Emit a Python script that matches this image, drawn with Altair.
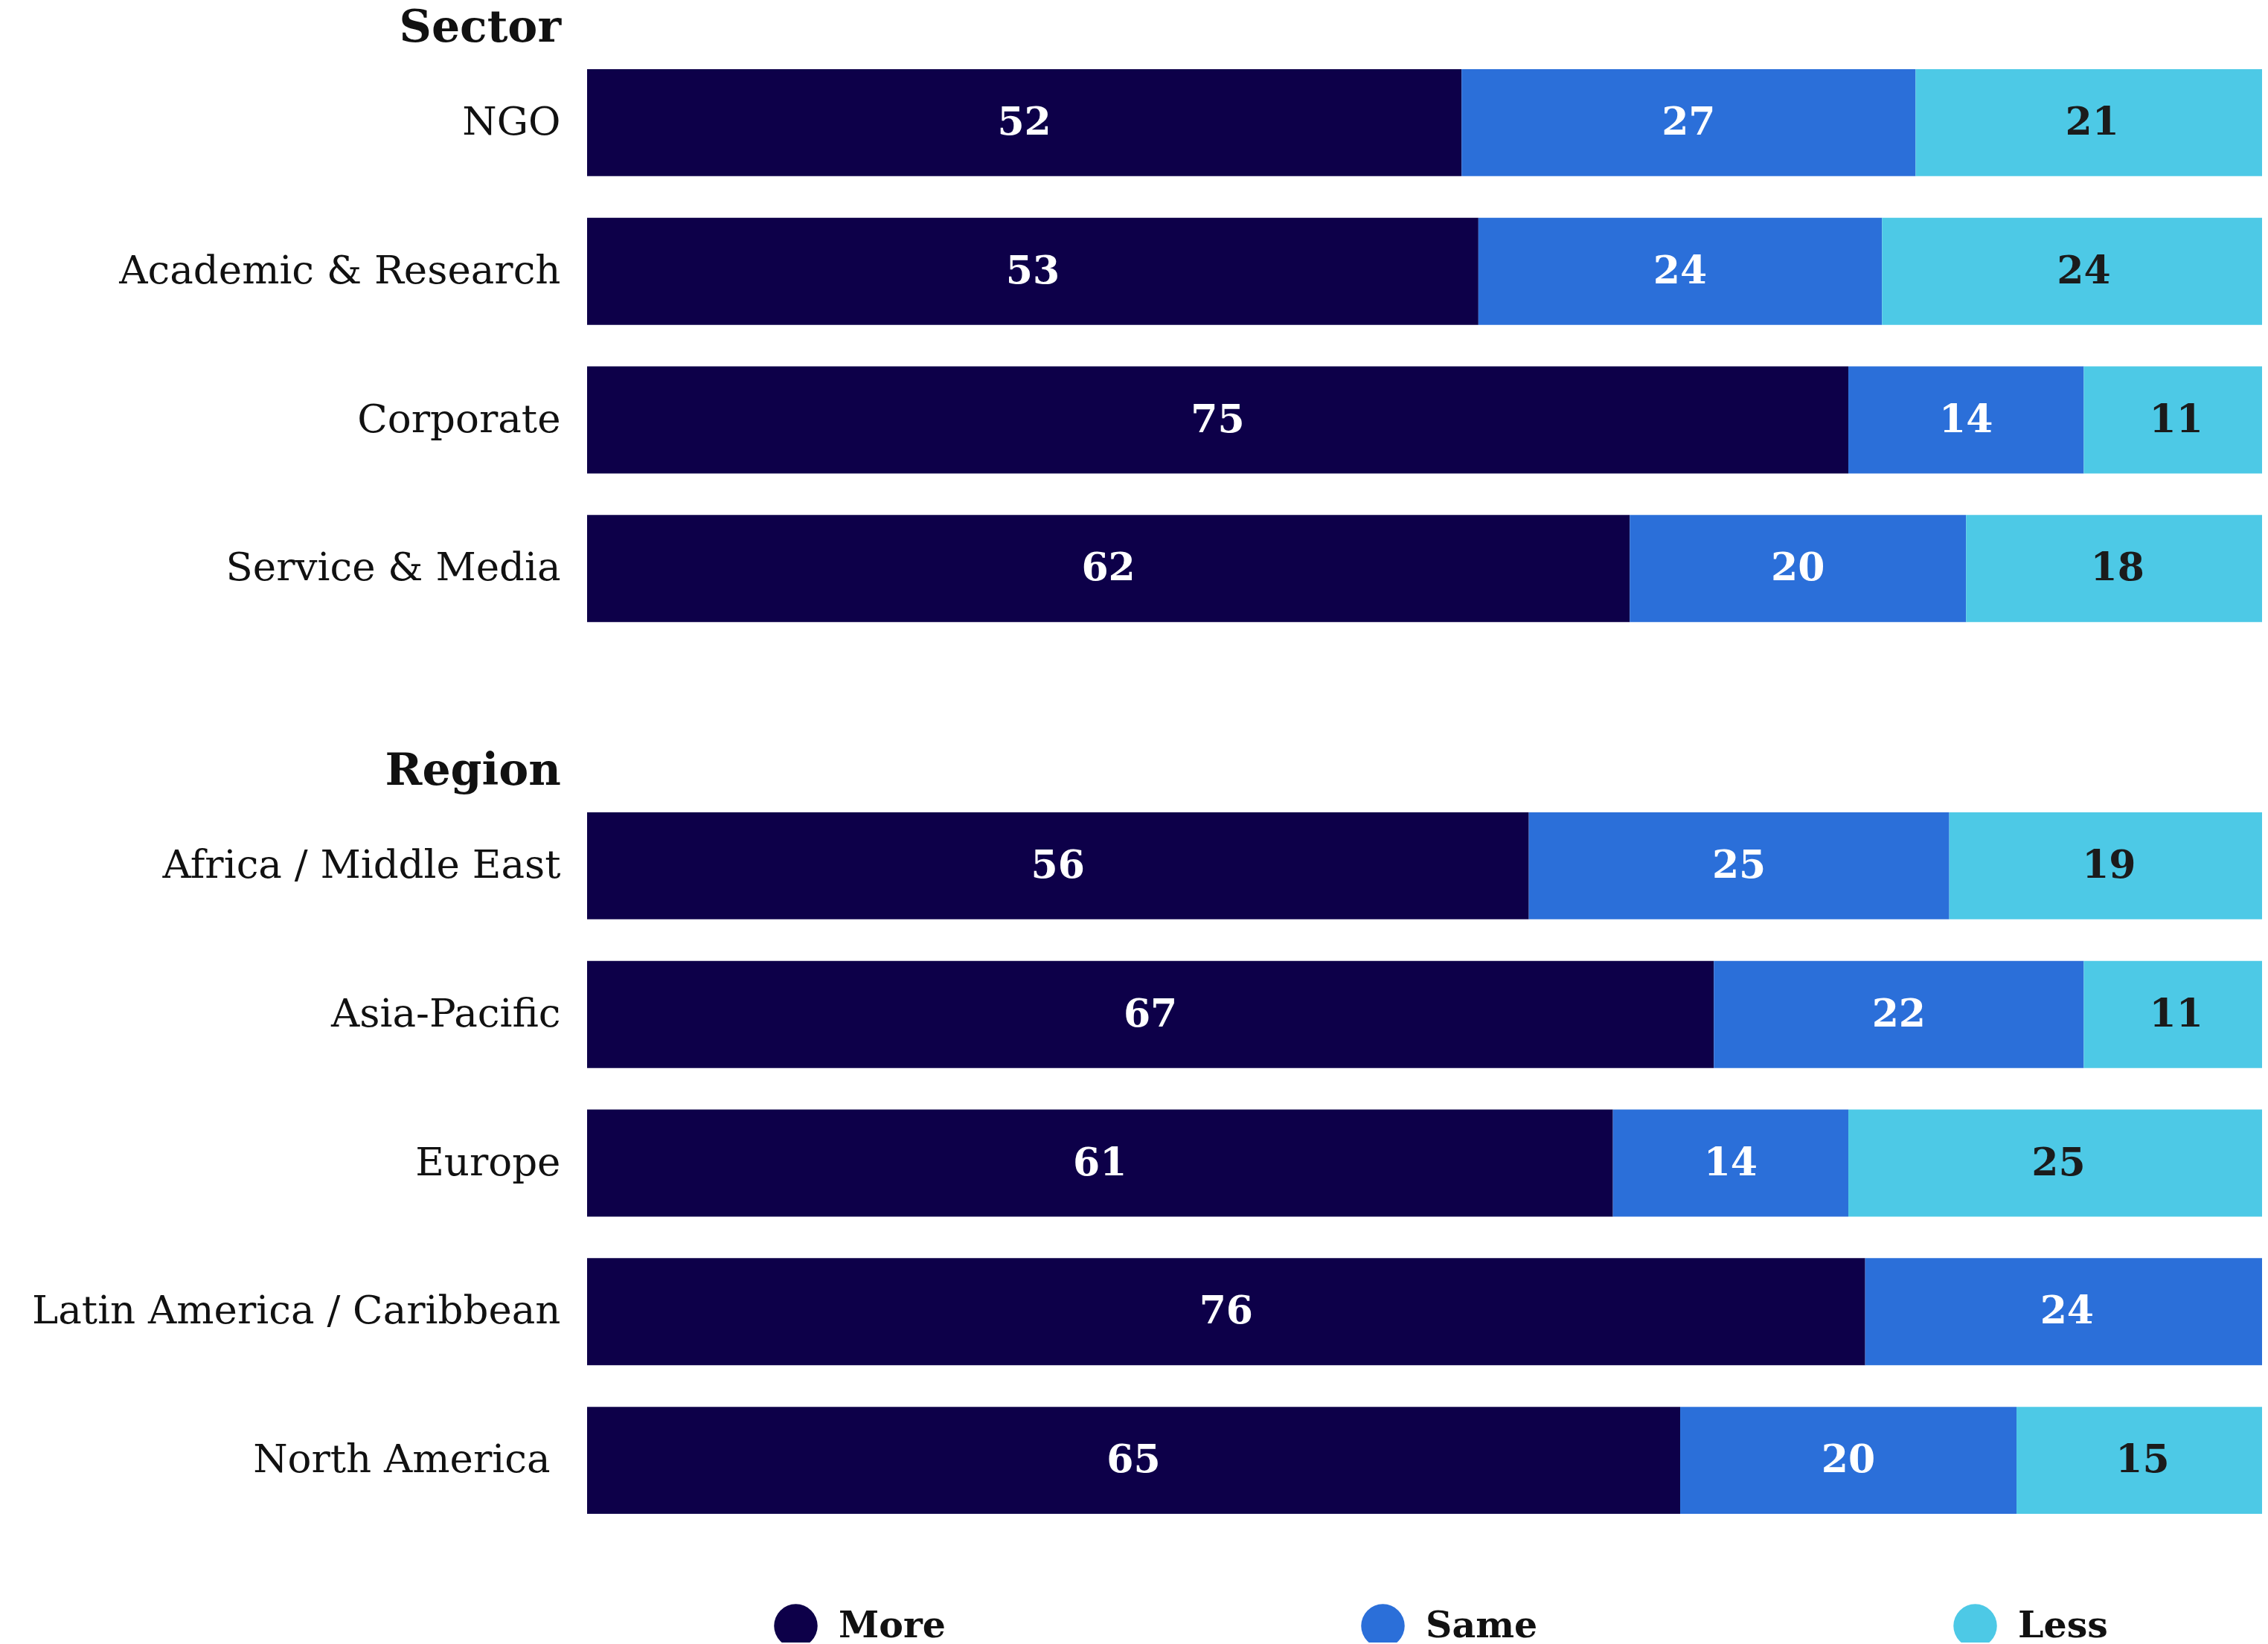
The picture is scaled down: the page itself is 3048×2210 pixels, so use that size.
import altair as alt
import pandas as pd

# ---- data ----
rows = ["NGO", "Academic & Research", "Corporate", "Service & Media",
        "Africa / Middle East", "Asia-Pacific", "Europe",
        "Latin America / Caribbean", "North America"]
more = [52, 53, 75, 62, 56, 67, 61, 76, 65]
same = [27, 24, 14, 20, 25, 22, 14, 24, 20]
less = [21, 24, 11, 18, 19, 11, 25, 0, 15]
responses = ["More", "Same", "Less"]
colors = ["#0d0049", "#2b6fd9", "#4dc9e6"]
headers = ["Sector", "Region"]
header_rows = ["NGO", "Africa / Middle East"]
spacer = " "

domain = rows[:4] + [spacer] + rows[4:]

records = []
for r, m, s, l in zip(rows, more, same, less):
    for resp, v in zip(responses, [m, s, l]):
        if v > 0:
            records.append({"Row": r, "Response": resp, "value": v})
df = pd.DataFrame(records)
hdf = pd.DataFrame({"Row": header_rows, "Header": headers})

FONT = "DejaVu Serif"

yscale = alt.Scale(domain=domain, paddingInner=0.28, paddingOuter=0.14)
yaxis = alt.Axis(title=None, domain=False, ticks=False, grid=False,
                 labelFont=FONT, labelFontSize=53, labelColor="#111111",
                 labelPadding={"condition": {"test": "datum.value == 'North America'", "value": 50},
                               "value": 36},
                 labelLimit=1000)
xscale = alt.Scale(domain=[0, 99.6], nice=False, zero=False)

base = (
    alt.Chart(df)
    .transform_calculate(ord="indexof(['More','Same','Less'], datum.Response)")
    .transform_stack(stack="value", groupby=["Row"], as_=["x0", "x1"],
                     sort=[alt.SortField("ord", order="ascending")])
    .transform_calculate(mid="(datum.x0 + datum.x1) / 2")
)

bars = base.mark_bar(clip=True).encode(
    y=alt.Y("Row:N", scale=yscale, axis=yaxis),
    x=alt.X("x0:Q", scale=xscale, axis=None),
    x2="x1:Q",
    color=alt.Color(
        "Response:N",
        scale=alt.Scale(domain=responses, range=colors),
        legend=alt.Legend(
            orient="none", legendX=251, legendY=2091, direction="horizontal",
            columns=3, columnPadding=558, title=None, symbolType="circle",
            symbolSize=3421, symbolStrokeWidth=0, symbolOpacity=1,
            labelFont=FONT, labelFontSize=49, labelFontWeight="bold",
            labelColor="#111111", labelOffset=28, labelLimit=400, padding=0,
        ),
    ),
)

labels = base.mark_text(font=FONT, fontSize=52, fontWeight="bold",
                        baseline="middle", align="center").encode(
    y=alt.Y("Row:N", scale=yscale, axis=yaxis),
    x=alt.X("mid:Q", scale=xscale, axis=None),
    text="value:Q",
    color=alt.condition("datum.Response == 'Less'", alt.value("#1b1b1b"), alt.value("#ffffff")),
)

head = alt.Chart(hdf).mark_text(font=FONT, fontSize=60, fontWeight="bold",
                                align="right", baseline="middle", dy=-127,
                                color="#111111").encode(
    y=alt.Y("Row:N", scale=yscale, axis=yaxis),
    x=alt.value(-35),
    text="Header:N",
)

chart = (
    alt.layer(bars, labels, head)
    .properties(width=2251, height=1998,
                padding={"left": 781, "top": 57, "right": 0, "bottom": 145},
                autosize=alt.AutoSizeParams(type="none"),
                background="white")
    .configure_view(strokeWidth=0)
)

chart.save("out.html", embed_options={"renderer": "svg", "actions": False})
